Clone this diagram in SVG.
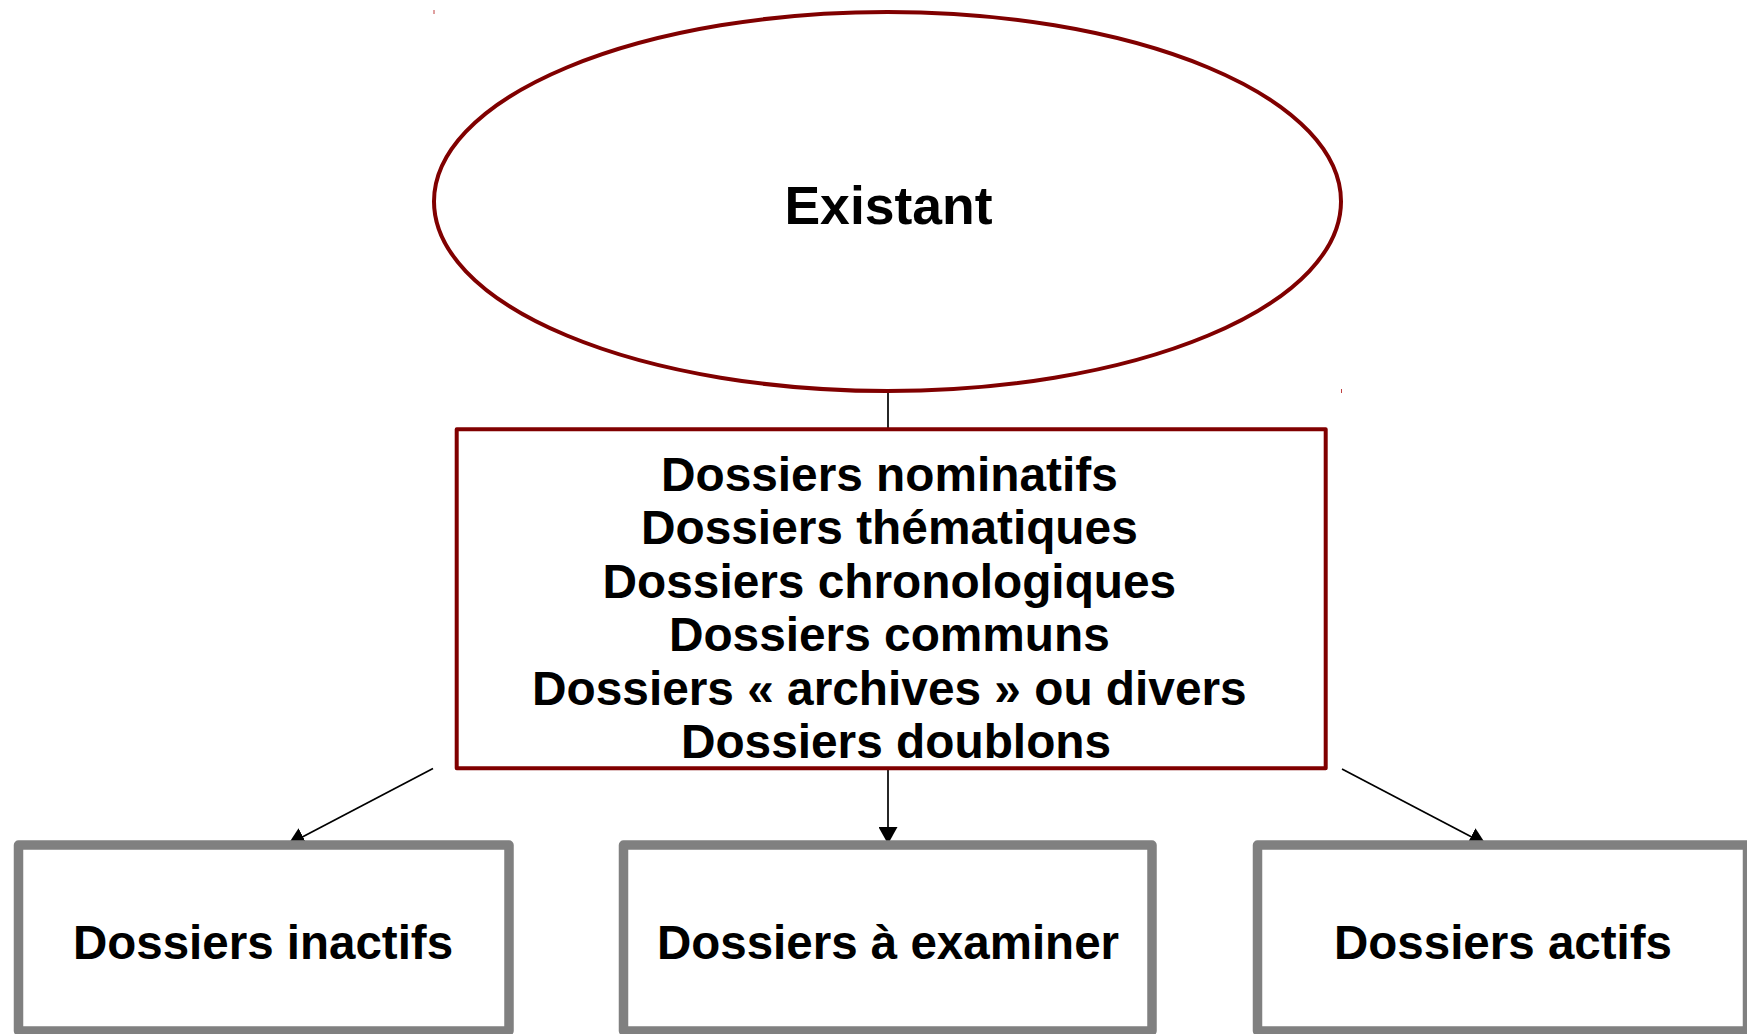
<svg xmlns="http://www.w3.org/2000/svg" width="1747" height="1034" viewBox="0 0 1747 1034">
<style>
.bg{fill:#ffffff}
.red{fill:#ffffff;stroke:#800000;stroke-linejoin:round}
.gray{fill:#ffffff;stroke:#808080;stroke-width:9.5;stroke-linejoin:round}
.t{font-family:"Liberation Sans",Arial,sans-serif;font-weight:bold;fill:#000000;text-anchor:middle}
.c{stroke:#000000;stroke-width:1.7;fill:none}
.tick{stroke:#c04040;stroke-width:1}
</style>
<defs>
<marker id="ah" markerUnits="userSpaceOnUse" markerWidth="18" markerHeight="19" refX="16" refY="9" orient="auto" viewBox="0 0 17 18">
<path d="M0,0 L16,9 L0,18 z" fill="#000000"/>
</marker>
</defs>
<rect class="bg" x="0" y="0" width="1747" height="1034"/>
<line class="tick" x1="434" y1="10" x2="434" y2="14"/>
<line class="tick" x1="1341.5" y1="389" x2="1341.5" y2="393"/>
<g id="connectors">
<line class="c" x1="888" y1="391" x2="888" y2="428"/>
<line class="c" x1="888" y1="770" x2="888" y2="844" marker-end="url(#ah)"/>
<line class="c" x1="433" y1="768.5" x2="288" y2="844.5" marker-end="url(#ah)"/>
<line class="c" x1="1342" y1="769" x2="1486" y2="844.5" marker-end="url(#ah)"/>
</g>
<g id="existant">
<ellipse class="red" stroke-width="4" cx="887.5" cy="201.5" rx="453.5" ry="189.5"/>
<text class="t" x="888.5" y="224" font-size="53.5">Existant</text>
</g>
<g id="types">
<rect class="red" stroke-width="4" x="456.7" y="429.3" width="869" height="339"/>
<text class="t" font-size="47.8">
<tspan x="896" y="490.5">Dossiers nominatifs</tspan>
<tspan x="896" y="544">Dossiers thématiques</tspan>
<tspan x="896" y="597.5">Dossiers chronologiques</tspan>
<tspan x="896" y="651">Dossiers communs</tspan>
<tspan x="896" y="704.5">Dossiers « archives » ou divers</tspan>
<tspan x="896" y="758">Dossiers doublons</tspan>
</text>
</g>
<g id="inactifs">
<rect class="gray" x="18.5" y="845" width="490.5" height="186"/>
<text class="t" x="263" y="959" font-size="47.5">Dossiers inactifs</text>
</g>
<g id="examiner">
<rect class="gray" x="623.5" y="845" width="528.5" height="186"/>
<text class="t" x="888" y="959" font-size="47.5">Dossiers à examiner</text>
</g>
<g id="actifs">
<rect class="gray" x="1257.5" y="845" width="490" height="186"/>
<text class="t" x="1503" y="959" font-size="47.5">Dossiers actifs</text>
</g>
</svg>
